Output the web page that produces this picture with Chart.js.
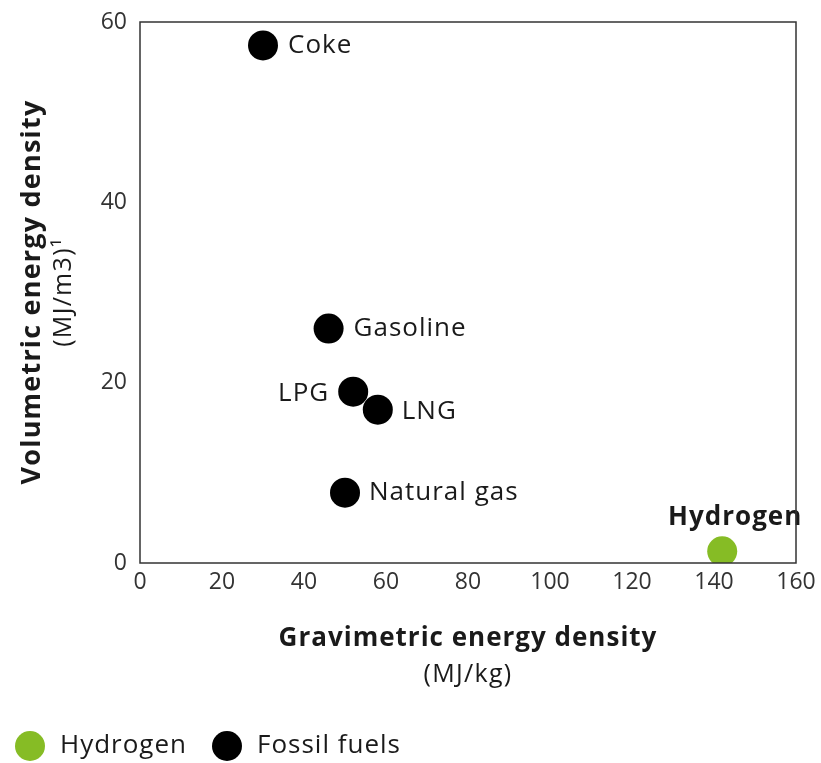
<!DOCTYPE html>
<html>
<head>
<meta charset="utf-8">
<script src="https://cdn.jsdelivr.net/npm/chart.js@4/dist/chart.umd.min.js"></script>
<style>
  html, body { margin: 0; padding: 0; background: #fff; }
  #wrap { width: 821px; height: 763px; }
</style>
</head>
<body>
<div id="wrap"><canvas id="c" width="821" height="763"></canvas></div>
<script>
// ---- data ----
const fossilNames = ["Coke", "Gasoline", "LPG", "LNG", "Natural gas"];
const fossilGravimetric = [30, 46, 52, 58, 50];
const fossilVolumetric = [57.4, 26.0, 19.0, 17.0, 7.8];
const hydrogenNames = ["Hydrogen"];
const hydrogenGravimetric = [142];
const hydrogenVolumetric = [1.3];
const xTicks = [0, 20, 40, 60, 80, 100, 120, 140, 160];
const yTicks = [0, 20, 40, 60];
const seriesLabels = ["Hydrogen", "Fossil fuels"];

// ---- styles ----
const GREEN = "#86BC25";
const BLACK = "#000000";
const FONT = "'Open Sans', 'Noto Sans', sans-serif";
const TEXT = "#1a1a1a";

// label placement (style, not data): [dx, dy, align, bold]
const labelPlacement = {
  "Coke": [25, 0, "left", false],
  "Gasoline": [25, 0, "left", false],
  "LPG": [-24, 2, "right", false],
  "LNG": [24, 2, "left", false],
  "Natural gas": [24, 0, "left", false],
  "Hydrogen": [13, -34, "center", true]
};

function toPoints(xs, ys) { return xs.map((x, i) => ({ x: x, y: ys[i] })); }

function spacedText(ctx, text, x, y, spacing) {
  ctx.letterSpacing = spacing + "px";
  ctx.fillText(text, x, y);
  ctx.letterSpacing = "0px";
}

const pointLabelPlugin = {
  id: "pointLabels",
  afterDatasetsDraw(chart) {
    const ctx = chart.ctx;
    chart.data.datasets.forEach((ds, di) => {
      const meta = chart.getDatasetMeta(di);
      meta.data.forEach((el, i) => {
        const name = ds.names[i];
        const p = labelPlacement[name] || [20, 0, "left", false];
        ctx.save();
        ctx.font = (p[3] ? "bold " : "") + "26px " + FONT;
        ctx.fillStyle = TEXT;
        ctx.textAlign = p[2];
        ctx.textBaseline = "middle";
        spacedText(ctx, name, el.x + p[0], el.y + p[1], 1);
        ctx.restore();
      });
    });
  }
};

const framePlugin = {
  id: "frameAndTitles",
  afterDraw(chart) {
    const ctx = chart.ctx;
    const a = chart.chartArea;
    ctx.save();
    ctx.strokeStyle = "#333333";
    ctx.lineWidth = 1.5;
    ctx.strokeRect(a.left, a.top, a.right - a.left, a.bottom - a.top);

    // x axis title
    const cx = 468;
    ctx.fillStyle = TEXT;
    ctx.textAlign = "center";
    ctx.textBaseline = "middle";
    ctx.font = "bold 26px " + FONT;
    spacedText(ctx, "Gravimetric energy density", cx, 639, 1);
    ctx.font = "25px " + FONT;
    spacedText(ctx, "(MJ/kg)", cx, 675, 1.3);

    // y axis title
    ctx.save();
    ctx.translate(32, 292);
    ctx.rotate(-Math.PI / 2);
    ctx.font = "bold 27px " + FONT;
    spacedText(ctx, "Volumetric energy density", 0, 0, 1.2);
    ctx.restore();
    ctx.save();
    ctx.translate(64, 292);
    ctx.rotate(-Math.PI / 2);
    ctx.font = "25px " + FONT;
    spacedText(ctx, "(MJ/m3)\u00B9", 0, 0, 1.3);
    ctx.restore();

    // legend
    const items = [
      { x: 30, color: chart.data.datasets[0].backgroundColor, label: chart.data.datasets[0].label },
      { x: 227, color: chart.data.datasets[1].backgroundColor, label: chart.data.datasets[1].label }
    ];
    const ly = 746;
    items.forEach(it => {
      ctx.beginPath();
      ctx.fillStyle = it.color;
      ctx.arc(it.x, ly, 15, 0, Math.PI * 2);
      ctx.fill();
      ctx.fillStyle = TEXT;
      ctx.textAlign = "left";
      ctx.textBaseline = "middle";
      ctx.font = "26px " + FONT;
      spacedText(ctx, it.label, it.x + 30, ly, 1);
    });
    ctx.restore();
  }
};

new Chart(document.getElementById("c"), {
  type: "scatter",
  data: {
    datasets: [
      {
        label: seriesLabels[0],
        names: hydrogenNames,
        data: toPoints(hydrogenGravimetric, hydrogenVolumetric),
        backgroundColor: GREEN,
        borderColor: GREEN,
        pointRadius: 15,
        pointHoverRadius: 15,
        borderWidth: 0
      },
      {
        label: seriesLabels[1],
        names: fossilNames,
        data: toPoints(fossilGravimetric, fossilVolumetric),
        backgroundColor: BLACK,
        borderColor: BLACK,
        pointRadius: 15,
        pointHoverRadius: 15,
        borderWidth: 0
      }
    ]
  },
  options: {
    responsive: false,
    animation: false,
    devicePixelRatio: 1,
    layout: { padding: { left: 0, right: 25, top: 22, bottom: 150 } },
    plugins: {
      legend: { display: false },
      tooltip: { enabled: false }
    },
    scales: {
      x: {
        type: "linear",
        min: 0, max: 160,
        afterBuildTicks(scale) { scale.ticks = xTicks.map(v => ({ value: v })); },
        afterFit(scale) { scale.height = 50; scale.paddingLeft = 0; scale.paddingRight = 0; },
        grid: { display: false, drawTicks: false },
        border: { display: false },
        ticks: { color: "#333333", font: { family: FONT, size: 23 }, padding: 6, maxRotation: 0 }
      },
      y: {
        type: "linear",
        min: 0, max: 60,
        afterBuildTicks(scale) { scale.ticks = yTicks.map(v => ({ value: v })); },
        afterFit(scale) { scale.width = 140; scale.paddingTop = 0; scale.paddingBottom = 0; },
        grid: { display: false, drawTicks: false },
        border: { display: false },
        ticks: { color: "#333333", font: { family: FONT, size: 23 }, padding: 13 }
      }
    }
  },
  plugins: [pointLabelPlugin, framePlugin]
});
</script>
</body>
</html>
